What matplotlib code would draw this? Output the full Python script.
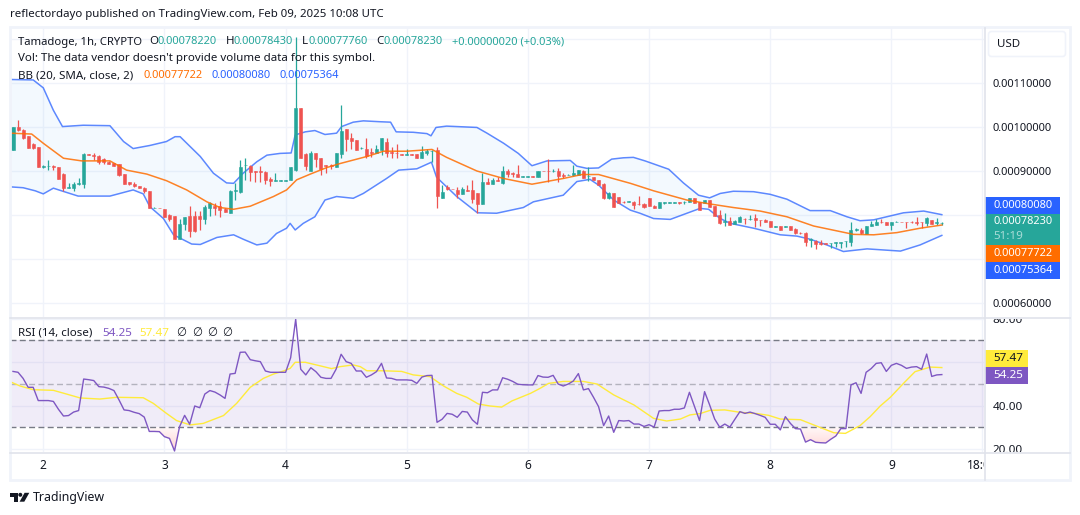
import numpy as np
import matplotlib
matplotlib.use("Agg")
import matplotlib.pyplot as plt
from matplotlib.patches import Rectangle, FancyBboxPatch, Polygon, Circle
from matplotlib.path import Path
from matplotlib.transforms import Bbox, TransformedBbox, IdentityTransform

plt.rcParams['font.family'] = ['Noto Sans', 'DejaVu Sans']

# hourly candles, prices in units of 1e-5 USD
opens = [94.8,99.9,99.3,98.0,96.1,95.5,91.0,91.1,91.2,90.8,
         89.3,86.2,86.1,87.0,87.0,93.8,93.7,93.4,92.7,92.1,
         91.9,91.6,89.3,87.4,87.0,86.6,86.2,85.5,81.6,81.7,
         81.4,80.0,79.8,74.6,78.0,79.8,79.8,79.8,79.2,81.7,
         82.0,82.0,81.4,80.5,85.4,85.2,91.3,91.2,89.9,89.9,
         89.8,88.2,87.8,87.8,87.8,87.9,90.2,104.4,93.9,90.1,
         94.0,93.0,91.4,91.4,90.8,93.9,99.5,97.5,97.0,95.2,
         95.0,94.4,94.0,94.8,96.6,94.4,94.2,93.9,93.7,93.9,
         93.9,93.0,94.2,94.5,94.8,83.9,86.4,86.0,85.7,84.8,
         85.7,85.7,85.0,82.5,87.5,87.0,88.0,87.3,90.1,89.5,
         89.3,88.7,88.7,88.8,88.7,90.0,90.0,89.9,90.0,89.1,
         89.1,89.0,89.2,90.0,88.8,88.7,87.9,87.0,83.8,85.0,
         84.1,83.0,82.9,83.0,82.5,82.5,83.8,82.1,81.7,82.8,
         82.8,82.8,82.9,82.9,83.0,83.8,82.9,82.8,83.4,82.0,
         80.0,78.3,78.6,78.0,78.4,79.2,79.0,79.3,78.9,78.9,
         78.6,77.3,77.4,77.3,77.4,76.8,75.9,75.9,74.4,74.1,
         73.6,73.6,73.6,73.6,73.7,74.0,73.9,76.7,76.6,75.7,
         77.5,77.7,78.4,78.4,77.7,78.4,78.5,78.5,78.4,78.4,
         78.5,78.2,78.9,78.2,78.22]
highs = [100.0,101.6,99.5,98.0,96.3,95.5,91.4,92.5,91.4,90.8,
         89.5,87.2,87.4,88.5,94.0,93.8,94.0,93.6,92.9,92.2,
         91.9,91.7,89.3,87.6,87.4,86.7,86.4,85.5,81.8,81.7,
         81.4,80.2,79.8,79.2,79.6,82.0,80.8,81.0,82.3,83.0,
         82.7,83.2,81.7,85.6,87.2,92.5,92.9,91.4,89.9,91.1,
         90.1,88.6,89.5,88.0,88.0,90.8,120.5,104.4,94.0,94.5,
         94.0,93.0,91.4,91.5,94.2,105.0,99.5,98.6,97.0,95.5,
         97.4,95.3,95.9,97.6,97.4,95.5,96.1,93.9,94.9,93.9,
         93.9,95.7,94.9,94.7,95.4,86.8,86.8,86.0,86.3,86.4,
         86.8,88.0,85.0,89.5,88.3,88.3,88.7,91.2,90.5,89.8,
         91.4,88.9,88.9,88.8,90.0,90.0,92.7,90.4,90.6,89.6,
         89.3,91.4,90.2,90.2,90.8,88.7,87.9,87.2,85.3,85.0,
         84.1,83.1,83.2,83.1,84.3,82.8,83.8,82.3,83.0,82.9,
         82.9,82.9,82.9,83.2,83.9,83.8,82.9,83.4,83.4,82.0,
         81.1,80.4,79.5,78.9,79.8,79.4,80.0,80.2,78.9,79.1,
         78.6,77.4,77.4,77.5,77.4,77.0,76.1,76.1,74.7,74.3,
         74.3,73.6,73.7,73.8,73.9,74.2,78.3,77.0,77.0,77.4,
         78.7,79.0,79.2,78.4,78.4,78.6,78.5,78.5,78.7,79.5,
         78.5,79.5,78.9,79.3,78.43]
lows = [94.8,99.2,97.2,95.2,95.1,91.0,90.6,90.2,90.2,88.2,
        85.5,86.1,85.5,86.8,86.2,93.6,92.5,91.7,91.7,91.6,
        91.2,88.9,87.0,86.8,86.3,86.1,85.1,81.5,81.5,81.5,
        79.6,78.7,74.6,74.5,76.7,75.1,76.2,76.7,78.0,79.8,
        80.0,79.6,80.7,80.5,83.4,85.1,88.0,87.8,87.6,87.5,
        87.0,86.6,87.8,87.8,87.8,87.9,90.1,93.0,90.2,90.0,
        91.0,89.1,89.6,90.5,90.8,92.9,94.5,94.9,94.8,94.9,
        92.9,93.1,94.0,93.6,93.1,92.9,92.9,93.7,93.6,93.7,
        93.0,93.0,93.6,92.1,81.7,83.9,85.7,85.8,83.9,84.8,
        85.5,82.7,80.4,82.5,87.0,87.0,87.7,87.0,88.6,88.7,
        88.7,88.7,88.7,88.6,88.7,89.9,87.6,89.8,87.6,88.5,
        89.1,88.9,89.2,88.3,87.8,87.9,86.8,83.6,83.7,81.9,
        82.7,82.8,82.9,81.4,82.3,81.7,82.0,81.7,81.7,82.4,
        82.8,82.8,82.4,82.4,83.0,82.7,81.2,82.8,81.9,79.8,
        78.0,77.6,77.7,77.9,78.4,77.9,78.9,77.3,77.5,78.3,
        77.3,77.3,76.7,77.3,76.7,75.7,75.7,73.0,72.7,72.3,
        73.2,73.5,72.5,72.8,72.6,72.8,72.9,76.4,75.7,75.7,
        77.4,77.7,78.2,77.7,76.7,78.4,78.4,77.0,78.2,77.7,
        77.0,77.5,78.0,77.7,77.76]
closes = [99.9,99.3,97.4,95.2,95.2,91.0,91.1,91.2,90.8,88.2,
          86.1,86.4,87.0,87.3,93.9,93.6,93.4,92.0,92.0,91.7,
          91.2,89.1,87.0,87.0,86.6,86.2,85.5,81.5,81.7,81.5,
          79.6,79.2,74.6,78.0,79.5,76.4,76.4,79.0,81.9,82.7,
          81.7,81.1,80.7,85.5,85.6,91.0,91.4,89.8,89.8,89.8,
          88.0,87.8,88.0,87.9,87.9,90.8,104.4,93.0,91.2,94.1,
          92.7,90.5,91.1,91.1,94.0,99.1,97.3,96.8,94.8,95.3,
          93.4,94.2,95.0,97.4,94.2,94.2,94.0,93.7,93.9,93.7,
          93.0,94.4,94.5,94.6,84.3,85.3,85.8,85.8,84.8,86.0,
          85.5,83.6,82.5,87.5,87.1,88.0,87.7,90.0,89.3,89.3,
          88.7,88.8,88.8,88.7,90.0,89.9,89.9,90.1,88.9,88.9,
          89.2,89.5,90.2,88.5,88.9,87.9,86.8,83.8,85.0,81.9,
          82.7,82.9,83.1,82.3,82.4,81.8,82.0,81.7,83.0,82.9,
          82.9,82.9,82.7,83.0,83.9,82.7,81.2,83.4,81.9,79.8,
          78.1,78.6,77.7,78.7,79.5,79.1,79.2,78.9,78.8,78.3,
          77.3,77.4,76.7,77.4,76.7,75.8,75.8,73.8,74.6,73.5,
          73.5,73.5,73.7,73.8,73.9,74.2,76.5,76.8,75.8,77.4,
          78.0,78.4,78.3,77.7,78.4,78.5,78.4,78.4,78.3,78.2,
          78.3,79.3,78.0,78.3,78.23]

# bollinger bands, (bar, price)
upper_bars = [-0.6,4,6,8,9.8,13.9,19.2,21.9,23.8,27.1,30.4,32.1,33.1,37.1,39.7,42.3,43.7,45.6,48.3,50.3,
              52.9,55.1,55.9,57.9,59.8,61.8,64.1,65.1,67.4,69.4,72.7,74.8,75.9,79.3,82,82.8,83.8,85.9,91.9,93.9,
              97.2,100.1,102.8,105.8,110.4,111.7,113.7,116,118.6,120.9,122.9,125.2,129.9,132.8,135.8,138,140.1,142.7,146.7,150,
              153.3,155.6,157.9,161.9,165.2,167.8,170.5,176.4,180.4,184]
upper_band = [110.8,110.7,108.9,103.8,100.1,100.4,100.3,96.7,95.1,95.8,96.7,97.8,97.8,93.3,89.5,87.3,87.2,89.5,92.1,93.6,
              94.0,94.1,98.2,98.9,99.2,98.3,98.6,100.1,101.1,101.4,101.2,101.1,98.9,98.8,98.5,98.0,99.9,100.2,99.9,98.6,
              96.3,94.0,91.2,92.3,92.4,91.1,90.6,90.7,92.7,93.0,93.1,92.3,90.4,87.3,84.5,83.9,84.9,85.4,85.3,84.7,
              83.6,82.3,81.0,81.0,79.6,78.7,78.9,80.5,80.9,80.08]
lower_bars = [-0.6,2,4.4,6,8,9.6,12.9,19.2,23.8,25.8,27.1,29.8,31.8,35.4,37.1,40.4,43.7,45.6,48.3,50.3,
              52.2,54.2,54.9,55.9,57.5,59.8,61.8,64.1,67.4,69.4,74,76.4,80,82.9,83.9,87.9,92,95.8,101.1,103.1,
              109,111.7,114.3,116,119,122.3,124.2,126.9,130.2,133.5,136.1,137.8,140.1,142.1,146.7,152,155.3,157.9,161.2,164.5,
              169.2,175.8,179.7,184]
lower_band = [86.4,86.2,85.5,84.8,86.1,85.5,84.3,84.3,85.7,84.8,81.9,79.2,75.5,73.4,73.3,74.9,75.5,74.5,73.2,73.6,
              75.8,77.0,78.1,76.6,78.1,79.6,83.4,84.2,83.8,84.9,88.3,90.2,90.5,92.0,88.6,84.2,80.5,80.4,81.7,83.0,
              84.5,87.6,88.1,86.8,83.4,81.1,80.4,79.2,79.0,80.4,81.5,81.3,79.2,78.1,77.0,75.5,75.2,74.5,73.2,71.7,
              72.3,71.8,73.2,75.364]
basis_bars = [-0.6,3.7,6,10,13.6,19.2,22.5,26.5,30.4,34.4,38.4,41,43.7,47,51.6,54.2,56.2,58.9,62.2,64.8,
              70.1,73.4,78,83,85.9,91.9,97.2,102.8,109,112.7,116,122.3,126.9,133.5,138.1,142.7,148,153.3,158.6,166.5,
              170.5,175.1,179.7,184]
basis = [98.6,98.4,96.3,92.9,92.3,92.3,90.2,89.3,87.8,85.7,83.0,81.7,81.3,82.0,84.2,85.7,88.0,89.3,90.8,91.7,
         93.3,94.5,94.5,94.9,93.1,90.0,88.3,87.0,88.3,89.2,89.2,87.2,85.5,83.4,82.5,81.7,80.9,79.6,77.5,75.6,
         75.5,76.0,77.0,77.722]

# RSI(14), one value per candle
rsi = [55.7,55.3,52.5,48.4,48.4,42.3,42.3,42.3,41.9,38.3,
       35.2,35.4,37.0,37.7,52.2,51.9,51.5,48.7,48.5,47.9,
       46.9,42.6,38.0,37.7,36.9,36.3,34.7,28.1,28.1,28.0,
       25.7,24.9,19.1,30.3,35.5,31.4,39.8,39.0,45.3,46.9,
       46.2,44.9,43.3,54.5,54.8,64.5,64.6,61.1,60.6,60.2,
       55.9,55.3,55.3,55.3,55.3,62.0,79.7,56.7,54.1,57.4,
       55.6,53.0,52.5,52.5,56.7,63.6,60.2,59.4,55.9,55.9,
       53.0,54.1,55.6,59.4,52.7,52.5,51.8,51.8,51.8,51.6,
       50.2,53.1,53.8,53.9,32.3,33.7,36.4,36.0,34.6,37.3,
       37.0,33.4,31.4,46.1,45.9,47.2,47.2,52.8,52.1,51.1,
       49.8,49.6,49.5,49.5,53.8,53.1,53.0,53.9,49.9,49.0,
       49.9,51.3,54.7,47.2,47.8,43.8,39.5,30.8,35.2,27.7,
       33.1,32.9,33.1,31.5,31.5,30.4,31.2,30.1,37.5,37.7,
       37.7,38.3,38.3,38.9,46.1,39.6,33.1,46.4,40.3,33.8,
       30.0,31.5,30.1,33.7,37.2,36.4,37.0,36.3,35.5,34.6,
       31.4,31.4,28.8,34.9,31.8,29.4,29.2,23.2,24.3,23.1,
       22.9,22.8,24.5,26.0,29.4,29.4,49.5,50.5,45.6,55.3,
       57.0,59.4,59.7,55.7,58.5,59.4,58.5,57.1,57.7,57.9,
       56.7,63.7,53.4,54.1,54.25]
rsi_ma_bars = [-0.6,1.4,4,8,10.6,13.3,17.2,20.5,25.8,27.8,30.4,32.4,35.1,37.7,41.7,44.3,47,49.6,51.6,53.6,
               54.9,55.9,57.9,60.8,63.1,64.8,67.4,68.8,70.1,73.4,77,79.3,82.6,85.3,87.9,89.9,92.2,94.5,96.8,98.8,
               102.5,104.4,106.1,109,113,115.7,119,123,126.9,129.5,132.2,134.1,136.1,138.1,141,144,147.4,149.7,152,156,
               158.6,162.6,164.9,167.8,169.8,171.8,173.8,176.4,178.7,181.7,184]
rsi_ma = [51.0,49.0,47.3,47.0,45.3,43.5,43.0,43.8,43.6,41.0,36.4,33.1,31.1,31.8,35.4,41.0,48.4,52.5,54.5,55.9,
          57.1,59.9,59.9,58.3,57.0,57.9,58.7,57.9,56.0,56.0,55.7,54.1,53.3,49.0,45.6,43.8,40.7,39.8,39.3,42.1,
          45.6,47.9,50.2,51.1,51.1,49.9,44.9,40.3,34.1,32.9,33.8,35.7,36.3,37.8,38.0,36.9,36.3,35.5,33.8,33.5,
          31.1,27.5,27.2,30.8,34.9,39.8,43.8,50.2,55.6,57.7,57.47]

price_ticks = [60, 70, 80, 90, 100, 110, 120]
price_labels = ['0.00060000', '', '', '0.00090000', '0.00100000', '0.00110000', '']
rsi_ticks = [20, 40, 60, 80]
rsi_labels = ['20.00', '40.00', '', '80.00']
day_bars = [6, 30, 54, 78, 102, 126, 150, 174, 192]
day_labels = ['2', '3', '4', '5', '6', '7', '8', '9', '18:00']

GREEN = '#26a69a'
RED = '#ef5350'
BLUE = '#2962ff'
ORANGE = '#ff6d00'
PURPLE = '#7e57c2'
YELLOW = '#ffeb3b'
TEXT = '#131722'
GRID = '#f0f3fa'
LINE = '#e0e3eb'
FS = 8.3
FS_NUM = 7.95

W, H = 1080, 515
fig = plt.figure(figsize=(W / 100, H / 100), dpi=100, facecolor='white')


def pane(x0, y0, x1, y1):
    # axes from pixel box, y counted from the top
    return fig.add_axes([x0 / W, 1 - y1 / H, (x1 - x0) / W, (y1 - y0) / H])


def pixel_clip(x0, y0, x1, y1):
    return Bbox([[x0, H - y1], [x1, H - y0]])


bars = np.arange(len(closes))
scale = 1e-5
xlim = ((10 - 13) / 5.048, (984 - 13) / 5.048)

# price pane
ax = pane(10, 28, 984, 317)
ax.set_xlim(*xlim)
ax.set_ylim(56.82 * scale, 122.5 * scale)
ax.set_axisbelow(True)
ax.grid(True, color=GRID, lw=1)
ax.set_xticks(day_bars)
ax.tick_params(axis='x', length=0, labelbottom=False)
ax.yaxis.tick_right()
ax.set_yticks([t * scale for t in price_ticks], price_labels)
ax.tick_params(axis='y', length=0, pad=6.2, labelsize=FS_NUM, labelcolor=TEXT)
for s in ax.spines.values():
    s.set_visible(False)

ax.fill(np.r_[upper_bars, lower_bars[::-1]],
        np.r_[upper_band, lower_band[::-1]] * scale,
        color='#2196f3', alpha=0.05, lw=0, zorder=1)
ax.plot(upper_bars, np.array(upper_band) * scale, color=BLUE, lw=1.1, alpha=0.75, zorder=2)
ax.plot(lower_bars, np.array(lower_band) * scale, color=BLUE, lw=1.1, alpha=0.75, zorder=2)

o, h, l, c = [np.array(a) * scale for a in (opens, highs, lows, closes)]
colors = [GREEN if c[i] >= o[i] else RED for i in bars]
ax.vlines(bars, l, h, colors=colors, lw=0.9, zorder=3)
ax.bar(bars, np.abs(c - o), bottom=np.minimum(o, c), width=0.6,
       color=colors, edgecolor=colors, lw=0.4, zorder=3)
ax.plot(basis_bars, np.array(basis) * scale, color=ORANGE, lw=1.1, alpha=0.85, zorder=4)

# RSI pane
ax2 = pane(10, 318.6, 984, 452)
ax2.set_xlim(*xlim)
ax2.set_ylim(18.64, 80)
ax2.set_axisbelow(True)
ax2.grid(True, color=GRID, lw=1)
ax2.set_xticks(day_bars, day_labels)
ax2.yaxis.tick_right()
ax2.set_yticks(rsi_ticks, rsi_labels)
ax2.tick_params(axis='x', length=0, pad=5, labelsize=8.6, labelcolor=TEXT)
ax2.tick_params(axis='y', length=0, pad=6.2, labelsize=8.4, labelcolor=TEXT)
for s in ax2.spines.values():
    s.set_visible(False)
for t in ax2.get_yticklabels():
    t.set_clip_on(True)
    t.set_clip_box(TransformedBbox(pixel_clip(984, 319, 1070, 452), IdentityTransform()))
for t in ax2.get_xticklabels():
    t.set_clip_on(True)
    t.set_clip_box(TransformedBbox(pixel_clip(10, 452, 984, 480), IdentityTransform()))

ax2.axhspan(30, 70, color=PURPLE, alpha=0.11, lw=0, zorder=1)
ax2.axhline(70, color='#787b86', lw=1, dashes=(4.3, 2.4), zorder=2)
ax2.axhline(30, color='#787b86', lw=1, dashes=(4.3, 2.4), zorder=2)
ax2.axhline(50, color='#787b86', lw=1, alpha=0.5, dashes=(4.3, 2.4), zorder=2)

# oversold shading, stronger towards the bottom of the dip
rsi_arr = np.array(rsi)
under = ax2.fill_between(bars, rsi_arr, 30, where=rsi_arr < 30, interpolate=True, color='none', lw=0)
grad = ax2.imshow(np.linspace(0, 1, 64).reshape(-1, 1), extent=(xlim[0], xlim[1], 19, 30),
                  origin='upper', aspect='auto', cmap=matplotlib.colors.LinearSegmentedColormap.from_list(
                      'fade', ['#fff8f8', '#ffd2d2']), zorder=1.5)
grad.set_clip_path(Path.make_compound_path(*under.get_paths()), ax2.transData)
ax2.set_xlim(*xlim)
ax2.set_ylim(18.64, 80)

ax2.plot(rsi_ma_bars, rsi_ma, color=YELLOW, lw=1.0, zorder=3)
ax2.plot(bars, rsi, color=PURPLE, lw=1.0, zorder=4)

# frame, legends and price tags, laid out in pixels
ov = fig.add_axes([0, 0, 1, 1])
ov.set_xlim(0, W)
ov.set_ylim(H, 0)
ov.axis('off')
ov.patch.set_alpha(0)


def label(x, y, s, color=TEXT, size=FS, **kw):
    ov.text(x, y, s, color=color, fontsize=size, va='center', ha=kw.pop('ha', 'left'), **kw)


ov.add_patch(Rectangle((9.5, 27), 1060, 453, fill=False, ec=GRID, lw=2))
ov.plot([10, 1070], [317.7, 317.7], color=LINE, lw=1.2)
ov.plot([10, 1070], [452.5, 452.5], color=LINE, lw=1.2)
ov.plot([984.5, 984.5], [28, 480], color=LINE, lw=1.2)

label(10, 15, 'reflectordayo published on TradingView.com, Feb 09, 2025 10:08 UTC', size=8.25)

label(18, 42, 'Tamadoge, 1h, CRYPTO', size=8.1)
label(149.5, 42, 'O')
label(158, 42, '0.00078220', GREEN, FS_NUM)
label(225.5, 42, 'H')
label(233.5, 42, '0.00078430', GREEN, FS_NUM)
label(302, 42, 'L')
label(308.5, 42, '0.00077760', GREEN, FS_NUM)
label(376.5, 42, 'C')
label(384, 42, '0.00078230', GREEN, FS_NUM)
label(452, 42, '+0.00000020 (+0.03%)', GREEN, 8.0)
label(18, 59, "Vol: The data vendor doesn't provide volume data for this symbol.")
label(18, 76, 'BB (20, SMA, close, 2)')
label(143, 76, '0.00077722', ORANGE, FS_NUM)
label(211.5, 76, '0.00080080', BLUE, FS_NUM)
label(279.7, 76, '0.00075364', BLUE, FS_NUM)

label(18, 333, 'RSI (14, close)')
label(102, 333, '54.25', PURPLE, 8.4)
label(139, 333, '57.47', YELLOW, 8.4)
for x in (176, 192, 207, 222):
    label(x, 333, '\u2205')

ov.add_patch(FancyBboxPatch((988.5, 31.5), 77, 25, boxstyle='round,pad=0,rounding_size=3',
                            fc='white', ec=GRID, lw=1.2))
label(997, 44.5, 'USD')

# last value tags on the scale
for y0, y1, col in [(197, 213.7, BLUE), (213.7, 245, GREEN), (245, 262, ORANGE), (262, 278.7, BLUE)]:
    ov.add_patch(Rectangle((985, y0), 75, y1 - y0, fc=col, ec='none'))
label(993, 205.3, '0.00080080', 'white', FS_NUM)
label(993, 222, '0.00078230', 'white', FS_NUM)
label(993, 236.5, '51:19', '#a8dcd7', 8.4)
label(993, 253.7, '0.00077722', 'white', FS_NUM)
label(993, 270.7, '0.00075364', 'white', FS_NUM)
ov.add_patch(Rectangle((985, 350), 43, 17, fc=YELLOW, ec='none'))
ov.add_patch(Rectangle((985, 367), 43, 17, fc=PURPLE, ec='none'))
label(993, 358.3, '57.47', TEXT, 8.4)
label(993, 375.5, '54.25', 'white', 8.4)

# logo and wordmark
ov.add_patch(Polygon([(10, 492.8), (18, 492.8), (18, 501.7), (14, 501.7), (14, 496.8), (10, 496.8)], fc=TEXT, ec='none'))
ov.add_patch(Circle((20.3, 494.8), 2.0, fc=TEXT, ec='none'))
ov.add_patch(Polygon([(24.6, 492.8), (29.3, 492.8), (24.3, 501.7), (19.6, 501.7)], fc=TEXT, ec='none'))
label(33, 497, 'TradingView', TEXT, 8.9)

fig.savefig('out.png', dpi=100, facecolor='white')
